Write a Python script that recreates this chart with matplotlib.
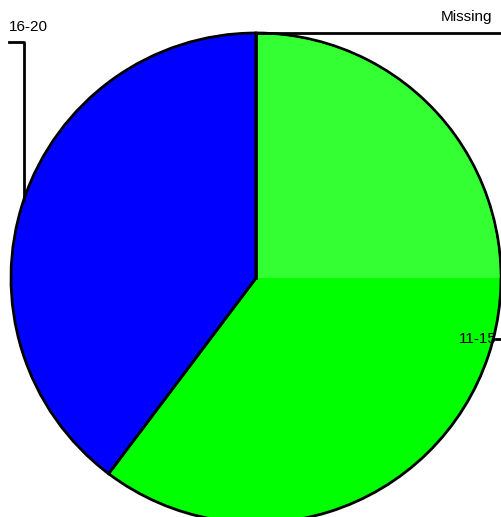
import numpy as np
import matplotlib.pyplot as plt
from matplotlib.patches import Wedge

# Datos del gráfico (frecuencias aproximadas)
categorias = ['11-15', '16-20', 'Missing']
valores = [88, 58, 0]
colores = ['#00ff00', '#0000ff', '#ffffff']

plt.rcParams['font.family'] = ['Liberation Sans', 'DejaVu Sans']

W, H = 502, 517
fig = plt.figure(figsize=(W / 100, H / 100), dpi=100)
ax = fig.add_axes([0, 0, 1, 1])

cx, cy, r = 256, H - 278, 245
wedges, _ = ax.pie(valores, colors=colores, startangle=90, counterclock=False,
                   radius=r, center=(cx, cy), frame=True,
                   wedgeprops=dict(edgecolor='black', linewidth=2))
ax.set_xlim(0, W)
ax.set_ylim(0, H)
ax.set_aspect('equal')
ax.axis('off')

# Tono algo más claro del verde en el cuadrante superior derecho
ax.add_patch(Wedge((cx, cy), r - 1.5, 0, 90, facecolor='#33ff33',
                   edgecolor='none', zorder=1.5))
ax.plot([cx, cx], [cy, cy + r], color='black', lw=2, zorder=3)


def punto_borde(w):
    ang = np.deg2rad((w.theta1 + w.theta2) / 2)
    return cx + r * np.cos(ang), cy + r * np.sin(ang)


# Etiquetas con líneas guía
x0, y0 = punto_borde(wedges[1])
ax.plot([9, x0, x0], [H - 42, H - 42, y0], color='black', lw=2, zorder=4)
ax.text(9, H - 34, categorias[1], fontsize=11, ha='left', va='bottom')

x2, y2 = punto_borde(wedges[2])
ax.plot([x2, W], [y2, y2], color='black', lw=2, zorder=4)
ax.text(492, H - 24, categorias[2], fontsize=11, ha='right', va='bottom')

x1, y1 = punto_borde(wedges[0])
ax.plot([x1 + 8, W], [H - 339, H - 339], color='black', lw=2, zorder=4)
ax.text(478, H - 339, categorias[0], fontsize=11, ha='center', va='center', zorder=5)

fig.savefig('out.png', dpi=100)
